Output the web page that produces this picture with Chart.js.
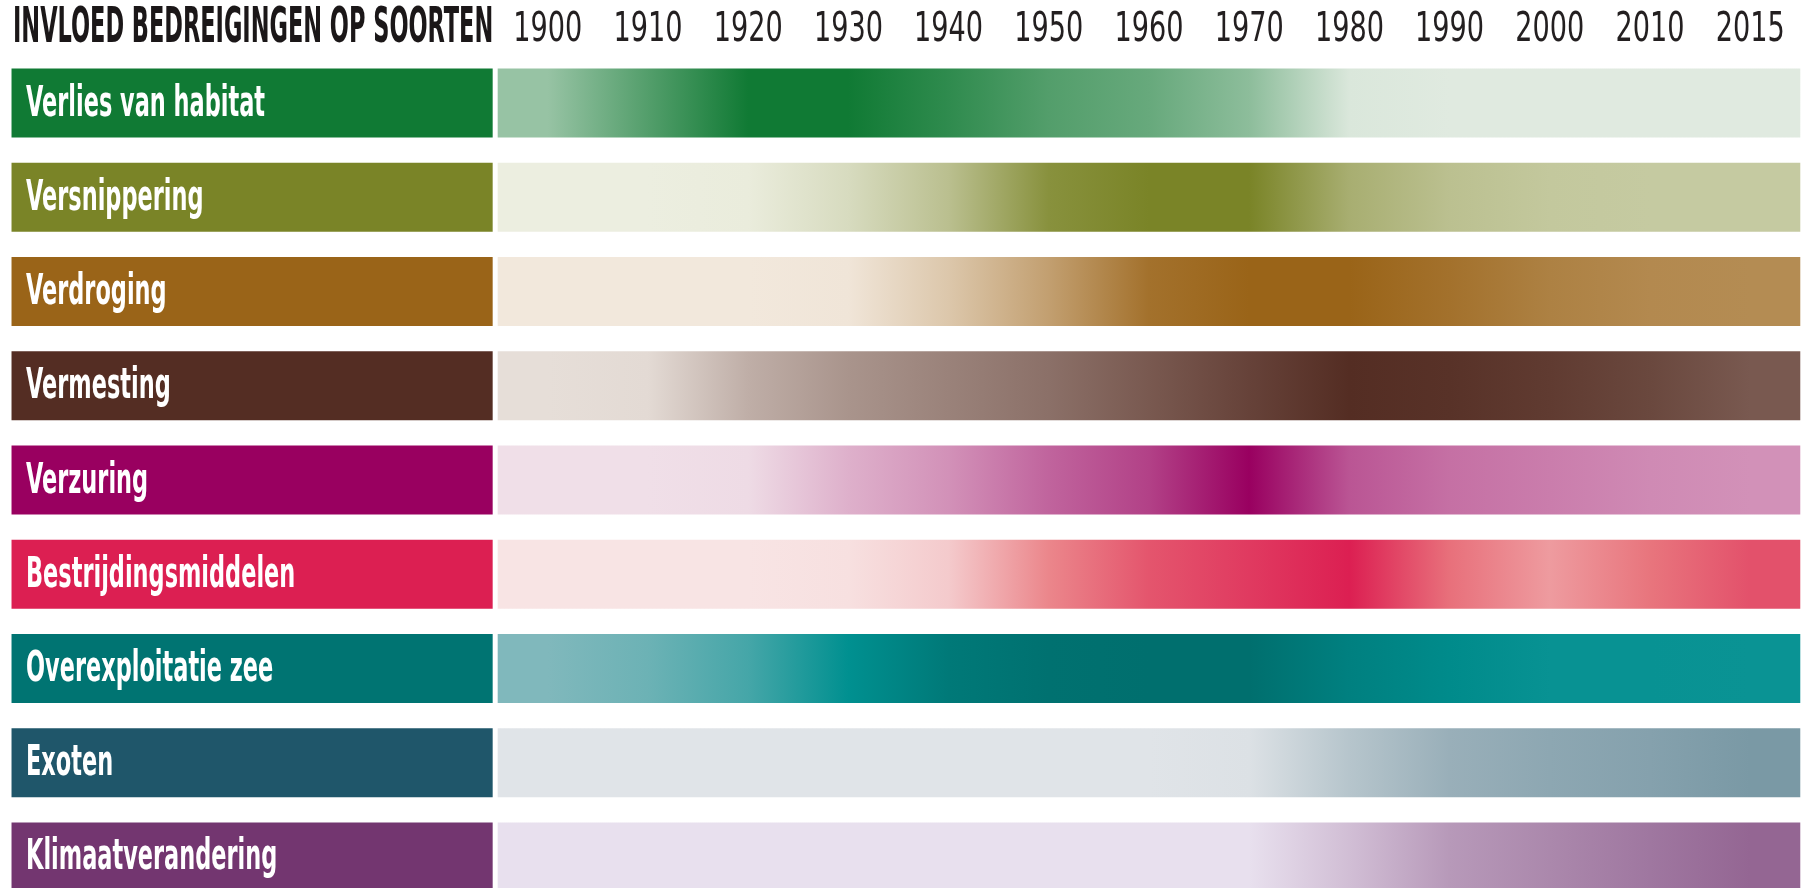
<!DOCTYPE html>
<html lang="nl">
<head>
<meta charset="utf-8">
<title>Invloed bedreigingen op soorten</title>
<script src="https://cdn.jsdelivr.net/npm/chart.js@4/dist/chart.umd.min.js"></script>
<style>
  html, body { margin: 0; padding: 0; background: #ffffff; overflow: hidden; }
  #vak { width: 1812px; height: 888px; overflow: hidden; }
</style>
</head>
<body>
<div id="vak"><canvas id="grafiek" width="1812" height="904"></canvas></div>
<script>
const titel = 'INVLOED BEDREIGINGEN OP SOORTEN';
const jaren = ['1900', '1910', '1920', '1930', '1940', '1950', '1960', '1970', '1980', '1990', '2000', '2010', '2015'];
const bedreigingen = ['Verlies van habitat', 'Versnippering', 'Verdroging', 'Vermesting', 'Verzuring',
    'Bestrijdingsmiddelen', 'Overexploitatie zee', 'Exoten', 'Klimaatverandering'];

const verliesVanHabitat    = [35, 68, 100, 100, 85, 68, 58, 40, 3, 0, 0, 0, 0];
const versnippering        = [0, 0, 2, 18, 44, 88, 100, 100, 60, 43, 36, 34, 34];
const verdroging           = [0, 0, 0, 2, 25, 55, 90, 100, 100, 90, 78, 72, 70];
const vermesting           = [0, 2, 27, 42, 52, 62, 75, 88, 100, 97, 92, 85, 75];
const verzuring            = [0, 0, 2, 21, 35, 55, 71, 100, 62, 50, 44, 38, 35];
const bestrijdingsmiddelen = [0, 0, 0, 2, 12, 44, 70, 85, 100, 55, 34, 52, 72];
const overexploitatieZee   = [0, 8, 23, 50, 85, 97, 100, 100, 74, 57, 47, 47, 46];
const exoten               = [0, 0, 0, 0, 0, 0, 0, 2, 22, 37, 43, 47, 53];
const klimaatverandering   = [0, 0, 0, 0, 0, 0, 0, 0, 20, 42, 52, 62, 72];

const invloed = [verliesVanHabitat, versnippering, verdroging, vermesting, verzuring,
    bestrijdingsmiddelen, overexploitatieZee, exoten, klimaatverandering];

const kleuren       = ['#107a34', '#7a8427', '#9a6418', '#542d23', '#990060', '#dc1f52', '#006f6e', '#1f566a', '#733670'];
const lichteKleuren = ['#e0eae0', '#eceee0', '#f2e8dc', '#e6ded8', '#f0dfe8', '#f8e4e4', '#80b8bc', '#e0e4e8', '#e8e0ee'];
const middenKleuren = [null, null, null, null, null, '#e9797f', '#009090', null, null];
const vakKleuren    = ['#107a34', '#7a8427', '#9a6418', '#542d23', '#990060', '#dc1f52', '#007472', '#1f566a', '#733670'];

// plaats van de gekleurde naamvakken op de x-as (in jaar-stappen)
const VAK_VAN = -5.352;
const VAK_TOT = -0.55;

function hexNaarRgb(hex) {
    return [1, 3, 5].map(p => parseInt(hex.substr(p, 2), 16));
}

function meng(a, b, t) {
    const ra = hexNaarRgb(a), rb = hexNaarRgb(b);
    const c = ra.map((v, k) => Math.round(v + (rb[k] - v) * t));
    return 'rgb(' + c.join(',') + ')';
}

function kleurVoor(rij, t) {
    const licht = lichteKleuren[rij], vol = kleuren[rij], midden = middenKleuren[rij];
    if (!midden) return meng(licht, vol, t);
    if (t < 0.5) return meng(licht, midden, t * 2);
    return meng(midden, vol, (t - 0.5) * 2);
}

function maakVerloop(context) {
    const chart = context.chart;
    const rij = context.dataIndex;
    const schaal = chart.scales.x;
    if (!chart.chartArea || !schaal) return kleuren[rij];
    const x0 = schaal.getPixelForValue(-0.5);
    const x1 = schaal.getPixelForValue(jaren.length - 0.5);
    const verloop = chart.ctx.createLinearGradient(x0, 0, x1, 0);
    invloed[rij].forEach((waarde, j) => {
        const pos = (schaal.getPixelForValue(j) - x0) / (x1 - x0);
        verloop.addColorStop(pos, kleurVoor(rij, waarde / 100));
    });
    return verloop;
}

const smal = "'Liberation Sans Narrow', 'DejaVu Sans Condensed', 'Liberation Sans', sans-serif";

// smalle tekst: horizontaal samengeknepen zodat hij past zoals in het origineel
function smalleTekst(ctx, tekst, x, y, knijp) {
    ctx.save();
    ctx.translate(x, y);
    ctx.scale(knijp, 1);
    ctx.fillText(tekst, 0, 0);
    ctx.restore();
}

// titel, jaartallen en namen in de vakken
const tekstPlugin = {
    id: 'teksten',
    afterDatasetsDraw(chart) {
        const ctx = chart.ctx;
        const schaal = chart.scales.x;
        const vakken = chart.getDatasetMeta(0).data;
        ctx.save();
        ctx.textBaseline = 'alphabetic';

        // titel
        const eerste = vakken[0].getProps(['x', 'base'], true);
        const links = Math.min(eerste.x, eerste.base);
        const breedte = Math.abs(eerste.x - eerste.base);
        ctx.textAlign = 'left';
        ctx.font = 'bold 49px ' + smal;
        ctx.fillStyle = '#1b1718';
        smalleTekst(ctx, titel, links + 1.5, chart.chartArea.top - 14,
            (breedte - 1) / ctx.measureText(titel).width);

        // jaartallen op de plaats van de x-as
        ctx.textAlign = 'center';
        ctx.font = '40px ' + smal;
        ctx.fillStyle = '#231f20';
        const knijpJaar = 69 / ctx.measureText(jaren[0]).width;
        jaren.forEach((jaar, i) => {
            smalleTekst(ctx, jaar, schaal.getPixelForValue(i), chart.chartArea.top - 15, knijpJaar);
        });

        // namen
        ctx.textAlign = 'left';
        ctx.font = 'bold 42px ' + smal;
        ctx.fillStyle = '#ffffff';
        const knijp = 239 / ctx.measureText(bedreigingen[0]).width;
        vakken.forEach((vak, i) => {
            const p = vak.getProps(['x', 'y', 'base'], true);
            smalleTekst(ctx, bedreigingen[i], Math.min(p.x, p.base) + 14.5, p.y + 12.5, knijp);
        });
        ctx.restore();
    }
};

new Chart(document.getElementById('grafiek'), {
    type: 'bar',
    data: {
        labels: bedreigingen,
        datasets: [{
            label: 'naam',
            data: bedreigingen.map(() => [VAK_VAN, VAK_TOT]),
            backgroundColor: vakKleuren,
            grouped: false,
            categoryPercentage: 1,
            barPercentage: 0.7325,
            borderWidth: 0
        }, {
            label: 'invloed',
            data: bedreigingen.map(() => [-0.5, jaren.length - 0.5]),
            backgroundColor: maakVerloop,
            grouped: false,
            categoryPercentage: 1,
            barPercentage: 0.7325,
            borderWidth: 0
        }]
    },
    options: {
        indexAxis: 'y',
        responsive: false,
        animation: false,
        layout: { padding: { top: 56, left: 0, right: 0, bottom: 0 } },
        plugins: {
            legend: { display: false },
            tooltip: { enabled: false }
        },
        scales: {
            x: {
                type: 'linear',
                position: 'top',
                min: -5.467,
                max: 12.617,
                grid: { display: false, drawTicks: false },
                border: { display: false },
                afterBuildTicks: (as) => {
                    as.ticks = jaren.map((j, i) => ({ value: i }));
                },
                ticks: { display: false }
            },
            y: {
                display: false,
                offset: true
            }
        }
    },
    plugins: [tekstPlugin]
});
</script>
</body>
</html>
